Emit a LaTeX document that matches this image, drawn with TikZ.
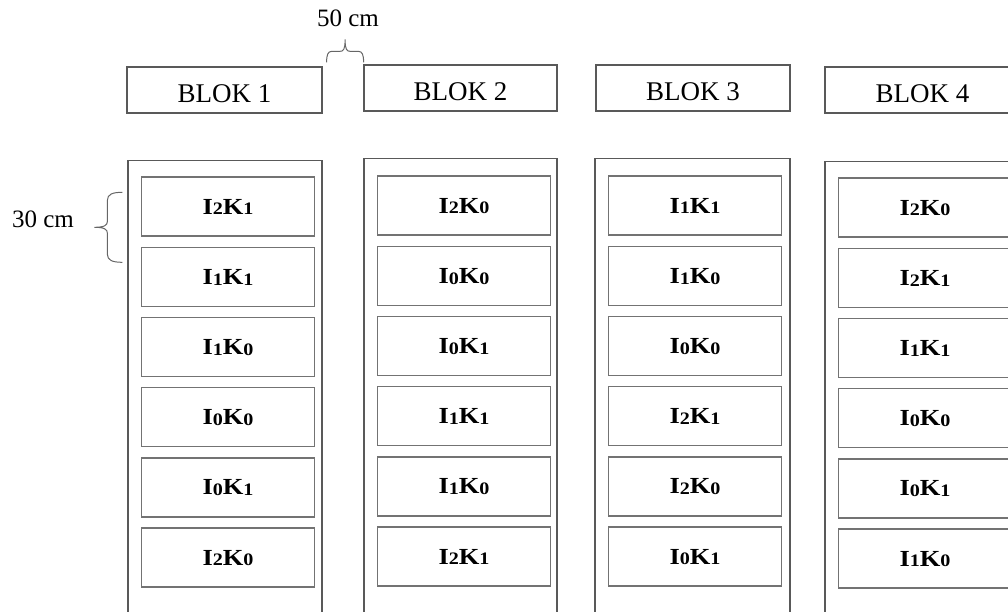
\documentclass[tikz,border=0pt]{standalone}
\usepackage{fontspec}
\setmainfont{Liberation Serif}
\usetikzlibrary{calc}
% treatment label: I with index, K with index (small digits set just under the baseline)
\newcommand{\sdig}[1]{\raisebox{-0.8pt}[0pt][0pt]{\fontsize{17.5}{18}\selectfont #1}}
\newcommand{\ik}[2]{\scalebox{1.15}[1]{I\sdig{#1}K\sdig{#2}}}
\tikzset{
  hdr/.style={draw=black!65, line width=1.2pt, minimum width=195pt, minimum height=46pt,
    inner sep=0pt, text height=25.5pt, text depth=0pt, font=\fontsize{27}{30}\selectfont},
  colbox/.style={draw=black!65, line width=1.2pt, minimum width=195pt, minimum height=480pt,
    inner sep=0pt, anchor=north},
  cell/.style={draw=black!55, line width=1.4pt, minimum width=173pt, minimum height=59pt,
    inner sep=0pt, font=\bfseries\fontsize{23}{28}\selectfont},
  brc/.style={draw=black!60, line width=1pt},
  lbl/.style={inner sep=0pt, font=\fontsize{25}{30}\selectfont}
}
\begin{document}
\begin{tikzpicture}[x=1pt,y=-1pt]
  \useasboundingbox (0,0) rectangle (1008,611);
  \clip (0,0) rectangle (1008,611);

  % block headers
  \node[hdr] (h1) at (224.5,90) {BLOK 1};
  \node[hdr, minimum width=193pt] (h2) at (460.5,88) {BLOK 2};
  \node[hdr, minimum width=194pt] (h3) at (693,88) {BLOK 3};
  \node[hdr] (h4) at (922.5,90) {BLOK 4};

  % block columns (running past the lower edge)
  \node[colbox, minimum width=194pt] (c1) at (225,160) {};
  \node[colbox, minimum width=193pt] (c2) at (460.5,158) {};
  \node[colbox] (c3) at (692.5,158) {};
  \node[colbox] (c4) at (922.5,161) {};

  % plots in each block
  \foreach [count=\r] \a/\b in {2/1,1/1,1/0,0/0,0/1,2/0}
    \node[cell] (c1r\r) at (228,{206.5+70.2*(\r-1)}) {\ik{\a}{\b}};
  \foreach [count=\r] \a/\b in {2/0,0/0,0/1,1/1,1/0,2/1}
    \node[cell] (c2r\r) at (464,{205.5+70.2*(\r-1)}) {\ik{\a}{\b}};
  \foreach [count=\r] \a/\b in {1/1,1/0,0/0,2/1,2/0,0/1}
    \node[cell] (c3r\r) at (695,{205.5+70.2*(\r-1)}) {\ik{\a}{\b}};
  \foreach [count=\r] \a/\b in {2/0,2/1,1/1,0/0,0/1,1/0}
    \node[cell] (c4r\r) at (925,{207.5+70.2*(\r-1)}) {\ik{\a}{\b}};

  % spacing between blocks: horizontal brace over the gap
  \coordinate (gapL) at ($(h1.north east)+(4,-4)$);
  \begin{scope}[shift={(gapL)}]
    \draw[brc] (0,0) .. controls (0,-8) and (1.5,-11) .. (5,-11) -- (13,-11)
      .. controls (17,-11) and (18.5,-13) .. (18.5,-23)
      .. controls (18.5,-13) and (20,-11) .. (24,-11) -- (32,-11)
      .. controls (35.5,-11) and (37,-8) .. (37,0);
  \end{scope}
  \node[lbl] (gap) at (348,18) {50 cm};

  % plot length: vertical brace beside the first plot
  \coordinate (lenT) at ($(c1r1.north -| c1.west)+(-5,16)$);
  \begin{scope}[shift={(lenT)}]
    \draw[brc] (0,0) .. controls (-10,0) and (-15,2) .. (-15,8) -- (-15,29)
      .. controls (-15,33) and (-18,35) .. (-28,35)
      .. controls (-18,35) and (-15,37) .. (-15,41) -- (-15,62)
      .. controls (-15,68) and (-10,70) .. (0,70);
  \end{scope}
  \node[lbl] (len) at (43,219) {30 cm};
\end{tikzpicture}
\end{document}
